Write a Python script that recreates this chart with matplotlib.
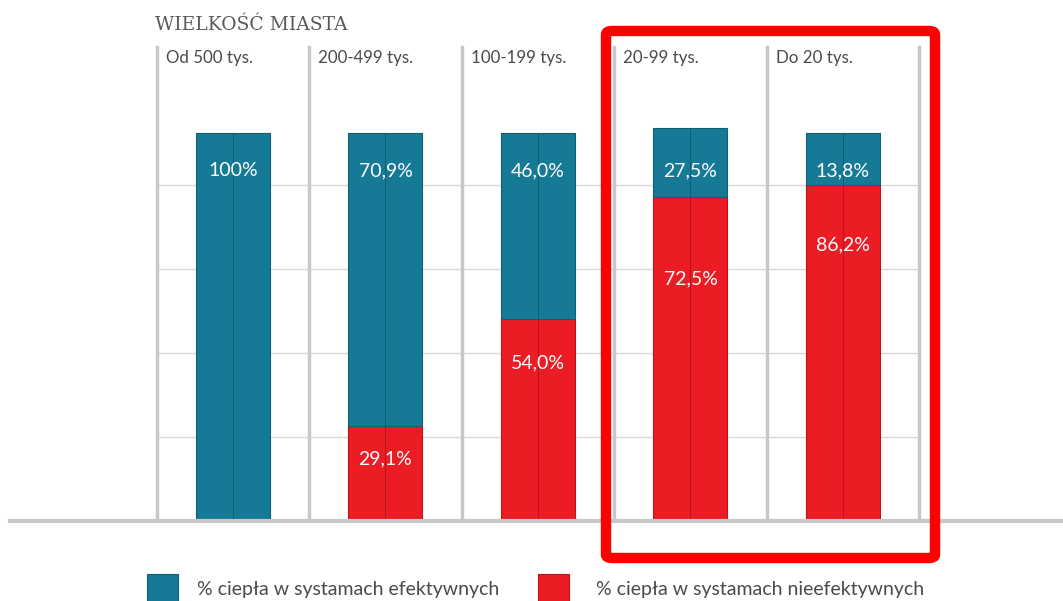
import matplotlib.pyplot as plt
from matplotlib.patches import FancyBboxPatch, Rectangle

# Data
categories = ['Od 500 tys.', '200-499 tys.', '100-199 tys.', '20-99 tys.', 'Do 20 tys.']
# heights of segments as drawn in the picture (percent of full bar)
red_heights = [0.0, 24.5, 52.1, 83.5, 86.6]
blue_heights = [100.0, 75.5, 47.9, 17.8, 13.4]
blue_labels = ['100%', '70,9%', '46,0%', '27,5%', '13,8%']
red_labels = ['', '29,1%', '54,0%', '72,5%', '86,2%']
grid_levels = [21.65, 43.3, 64.95, 86.6]
legend_labels = ['% ciepła w systamach efektywnych', '% ciepła w systamach nieefektywnych']

# label placement (percent)
blue_label_y = 90.3
red_label_y = [0, 16.0, 40.8, 62.4, 71.2]

blue = '#167a96'
blue_edge = '#0d5f74'
red = '#ec1c24'
red_edge = '#b8141a'
grey_line = '#c8c8c8'
text_col = '#4a4a4a'

plt.rcParams['font.family'] = ['Lato', 'DejaVu Sans']

fig = plt.figure(figsize=(10.63, 6.01), dpi=100)
ax = fig.add_axes([10 / 1063, 80 / 601, 1053 / 1063, 521 / 601])
ax.set_xlim(-1.462, 5.443)
ax.set_ylim(0, 134.3)
ax.axis('off')

x = list(range(len(categories)))
w = 0.485

# grid lines
for g in grid_levels:
    ax.plot([-0.5, 4.5], [g, g], color='#d9d9d9', lw=1, zorder=1)

# column dividers
for i in range(len(categories) + 1):
    ax.plot([i - 0.5, i - 0.5], [0, 122.2], color=grey_line, lw=2.5, zorder=1)

ax.bar(x, red_heights, w, color=red, edgecolor=red_edge, lw=0.8, zorder=2)
ax.bar(x, blue_heights, w, bottom=red_heights, color=blue, edgecolor=blue_edge,
       lw=0.8, zorder=2)
for i in x:
    top = red_heights[i] + blue_heights[i]
    if red_heights[i] > 0:
        ax.plot([i, i], [0, red_heights[i]], color=red_edge, lw=0.7, zorder=3)
    ax.plot([i, i], [red_heights[i], top], color=blue_edge, lw=0.7, zorder=3)

# baseline
ax.plot([-1.462, 5.443], [0, 0], color=grey_line, lw=3, zorder=4, clip_on=False)

for i in x:
    ax.text(i, blue_label_y, blue_labels[i], color='white', fontsize=14,
            ha='center', va='center', zorder=5)
    if red_labels[i]:
        ax.text(i, red_label_y[i], red_labels[i], color='white', fontsize=14,
                ha='center', va='center', zorder=5)
    ax.text(i - 0.5 + 0.06, 119.3, categories[i], color=text_col, fontsize=12.2,
            ha='left', va='center')

fig.text(155 / 1063, 1 - 25 / 601, 'WIELKOŚĆ MIASTA', family='DejaVu Serif',
         color='#5a5a5a', fontsize=13.5, ha='left', va='center')

# highlight frame
fig.patches.append(FancyBboxPatch((606 / 1063, 1 - 558 / 601), 329 / 1063, 527 / 601,
                                  boxstyle='round,pad=0,rounding_size=0.006',
                                  transform=fig.transFigure, fill=False,
                                  edgecolor='#ff0000', lw=7.5, zorder=10))

# legend
for lx, tx, col, edge, lab in [(147, 197, blue, blue_edge, legend_labels[0]),
                               (538, 596, red, red_edge, legend_labels[1])]:
    fig.patches.append(Rectangle((lx / 1063, -0.01), 31 / 1063, 1 - 574 / 601 + 0.01,
                                 transform=fig.transFigure, facecolor=col,
                                 edgecolor=edge, lw=0.8))
    fig.text(tx / 1063, 1 - 590 / 601, lab, color=text_col, fontsize=14,
             ha='left', va='center')

fig.savefig('out.png', dpi=100)
